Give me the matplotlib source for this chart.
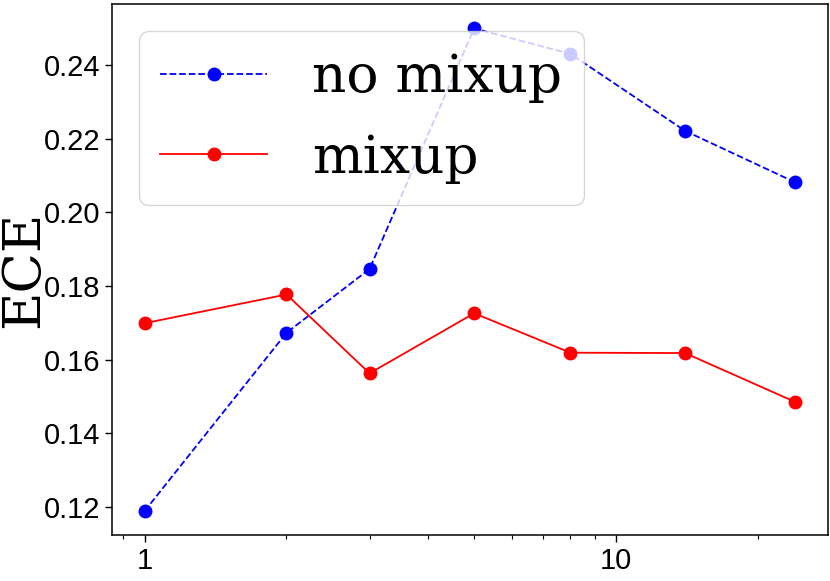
import matplotlib
matplotlib.use("Agg")
import matplotlib.pyplot as plt
from matplotlib.ticker import FixedLocator, FixedFormatter, LogLocator, NullFormatter

x_vals = [1, 2, 3, 5, 8, 14, 24]
no_mixup = [0.1189, 0.1673, 0.1846, 0.2499, 0.2430, 0.2221, 0.2081]
mixup = [0.1699, 0.1777, 0.1563, 0.1726, 0.1619, 0.1618, 0.1485]
x_tick_vals = [1, 10]
x_tick_labels = ["1", "10"]
y_tick_vals = [0.12, 0.14, 0.16, 0.18, 0.20, 0.22, 0.24]
y_tick_labels = ["0.12", "0.14", "0.16", "0.18", "0.20", "0.22", "0.24"]

fig = plt.figure(figsize=(8.3, 5.81), dpi=100)
ax = fig.add_axes([0.1349, 0.0787, 0.8627, 0.9139])

ax.plot(x_vals, no_mixup, linestyle="--", color="blue", marker="o",
        markersize=9, linewidth=1.3, label="no mixup")
ax.plot(x_vals, mixup, linestyle="-", color="red", marker="o",
        markersize=9, linewidth=1.3, label="mixup")

ax.set_xscale("log")
ax.xaxis.set_major_locator(FixedLocator(x_tick_vals))
ax.xaxis.set_major_formatter(FixedFormatter(x_tick_labels))
ax.xaxis.set_minor_locator(LogLocator(base=10, subs=range(2, 10)))
ax.xaxis.set_minor_formatter(NullFormatter())

ax.set_yticks(y_tick_vals)
ax.set_yticklabels(y_tick_labels)

for lab in ax.get_xticklabels() + ax.get_yticklabels():
    lab.set_fontfamily(["Liberation Sans", "DejaVu Sans"])
    lab.set_fontsize(21)

ax.tick_params(axis="both", which="major", length=5, width=1.0, colors="black")
ax.tick_params(axis="x", which="minor", length=3, width=0.8)
for s in ax.spines.values():
    s.set_linewidth(1.1)

ax.set_ylabel("ECE", fontsize=38, family="DejaVu Serif", va="baseline")
ax.yaxis.set_label_coords(-0.103, 0.5)
ax.legend(loc="upper left", prop=dict(family="DejaVu Serif", size=38.5),
          handletextpad=0.85, labelspacing=0.55)

fig.savefig("out.png", dpi=100)
